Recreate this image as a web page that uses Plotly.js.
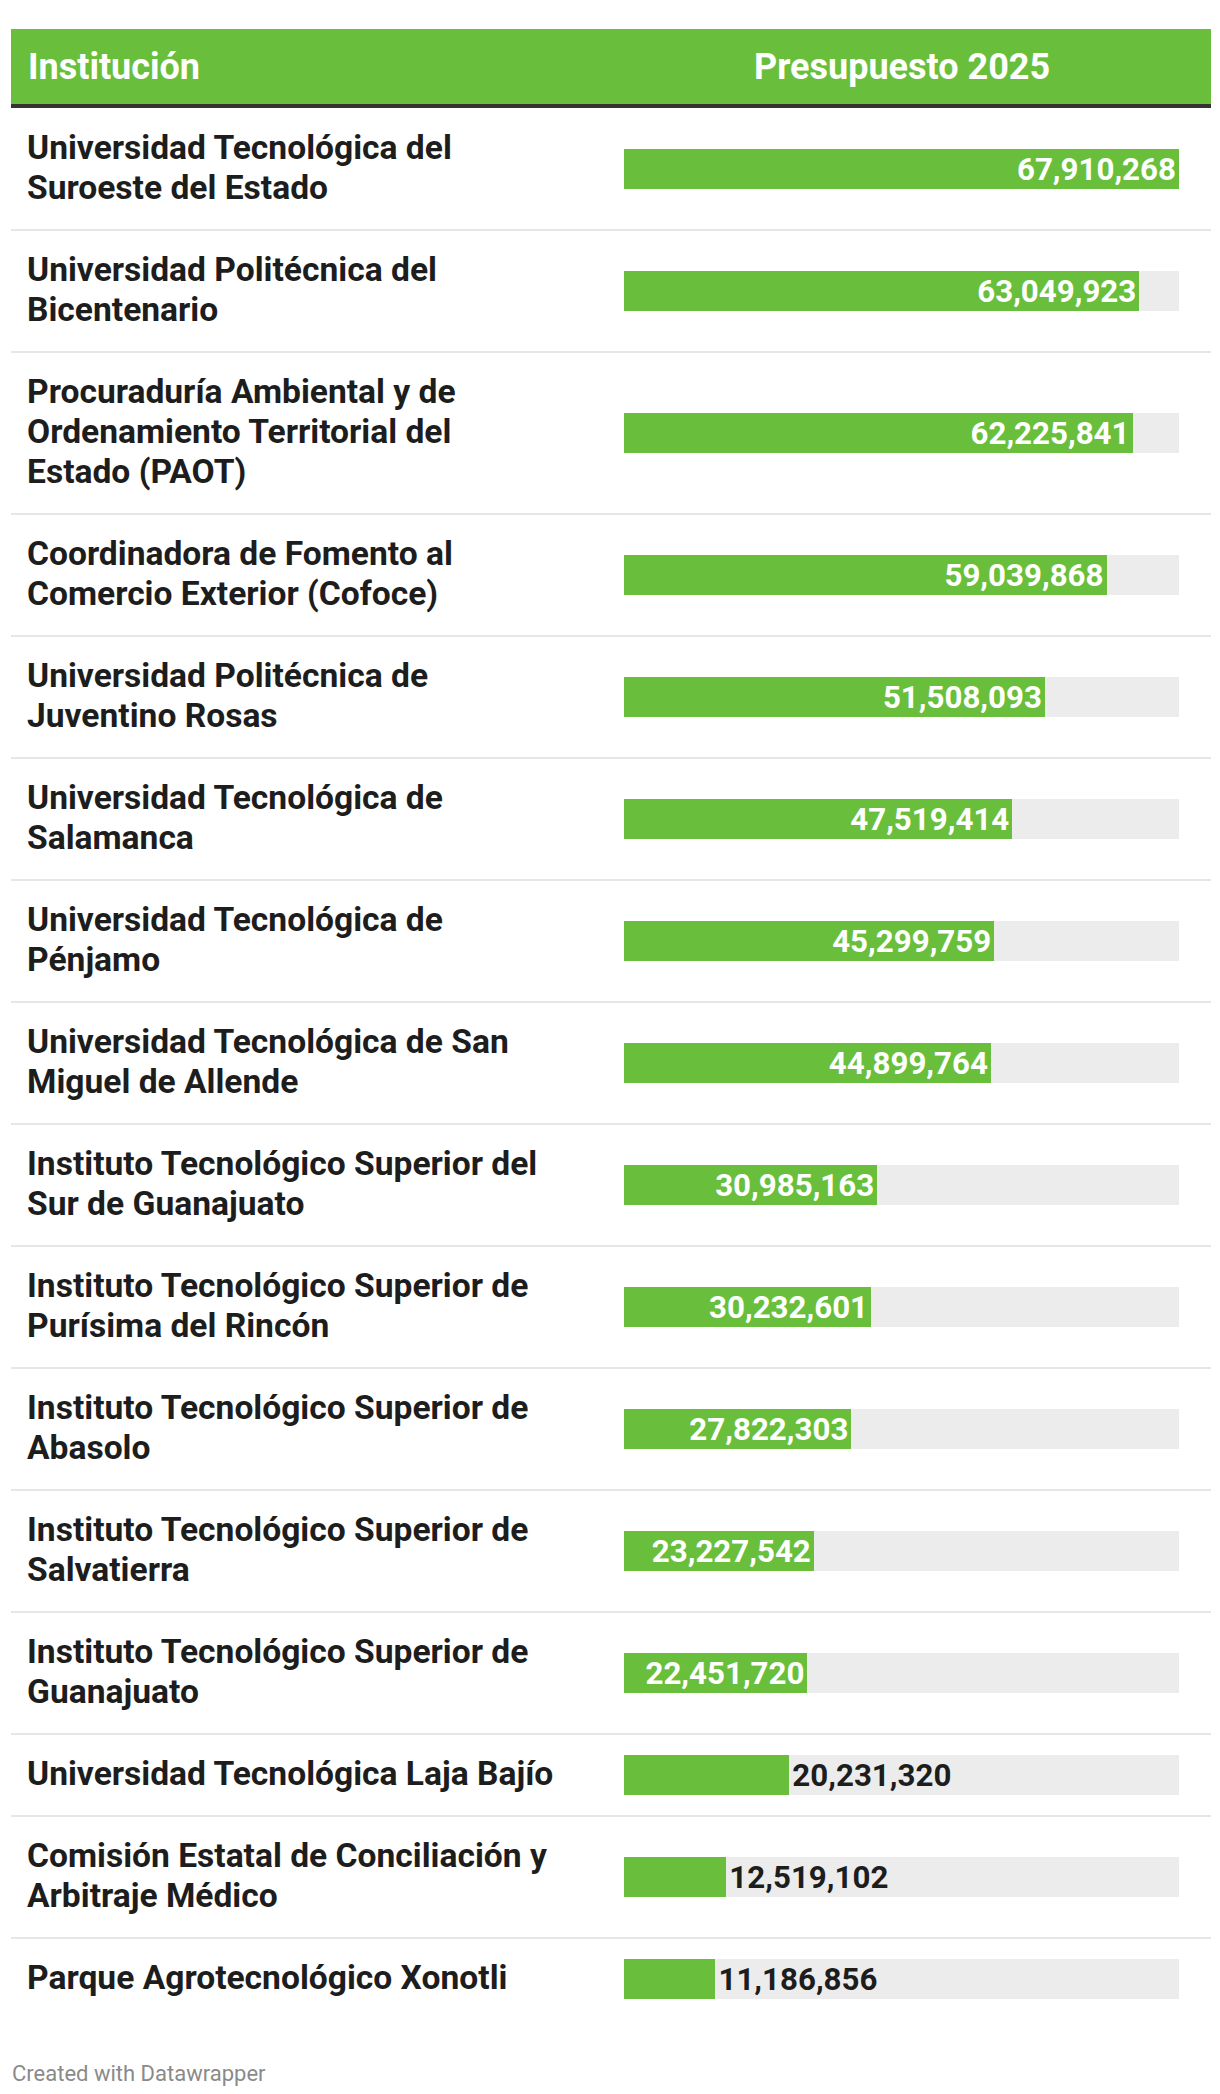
<!DOCTYPE html>
<html>
<head>
<meta charset="utf-8">
<script src="https://cdn.plot.ly/plotly-3.0.1.min.js"></script>
<style>
  html, body { margin: 0; padding: 0; background: #ffffff; }
  #chart { width: 1220px; height: 2094px; }
</style>
</head>
<body>
<div id="chart"></div>
<script>
// ---- Data ----
const institutions = [
  "Universidad Tecnológica del\nSuroeste del Estado",
  "Universidad Politécnica del\nBicentenario",
  "Procuraduría Ambiental y de\nOrdenamiento Territorial del\nEstado (PAOT)",
  "Coordinadora de Fomento al\nComercio Exterior (Cofoce)",
  "Universidad Politécnica de\nJuventino Rosas",
  "Universidad Tecnológica de\nSalamanca",
  "Universidad Tecnológica de\nPénjamo",
  "Universidad Tecnológica de San\nMiguel de Allende",
  "Instituto Tecnológico Superior del\nSur de Guanajuato",
  "Instituto Tecnológico Superior de\nPurísima del Rincón",
  "Instituto Tecnológico Superior de\nAbasolo",
  "Instituto Tecnológico Superior de\nSalvatierra",
  "Instituto Tecnológico Superior de\nGuanajuato",
  "Universidad Tecnológica Laja Bajío",
  "Comisión Estatal de Conciliación y\nArbitraje Médico",
  "Parque Agrotecnológico Xonotli"
];
const budget2025 = [
  67910268, 63049923, 62225841, 59039868, 51508093, 47519414, 45299759, 44899764,
  30985163, 30232601, 27822303, 23227542, 22451720, 20231320, 12519102, 11186856
];
const headerLabels = ["Institución", "Presupuesto 2025"];
const footerText = "Created with Datawrapper";

// ---- Layout constants ----
const W = 1220, H = 2094;
const GREEN = "#69bf3b", TRACK = "#ececec", DARK = "#1d1d1d";
const FONT = "Roboto, 'Open Sans', sans-serif";
const LABEL_FS = 33.6, VALUE_FS = 31.3, HEAD_FS = 36, FOOT_FS = 22;
const tableLeft = 11, tableRight = 1211;
const barLeft = 624, barRight = 1179;
const headerTop = 29, headerBottom = 104, ruleBottom = 108;
const lineH = 40, rowPad = 42, barH = 40, labelShift = -2;

const maxVal = Math.max(...budget2025);

// row geometry derived from label line counts
const rowCenters = [], rowBounds = [];
let cursor = ruleBottom;
institutions.forEach(name => {
  const lines = name.split("\n").length;
  const h = lines * lineH + rowPad;
  rowCenters.push(cursor + h / 2);
  cursor += h;
  rowBounds.push(cursor);
});

const fmt = v => v.toLocaleString("en-US");
const valueText = budget2025.map(fmt);
const barPx = budget2025.map(v => v / maxVal * (barRight - barLeft));
const textPos = valueText.map((t, i) => (barPx[i] > t.length * 0.53 * VALUE_FS + 10 ? "inside" : "outside"));

const px = x => x / W;

const traces = [
  {
    type: "bar", orientation: "h",
    x: budget2025.map(() => maxVal), y: rowCenters, width: barH,
    marker: { color: TRACK, line: { width: 0 } },
    hoverinfo: "skip", showlegend: false
  },
  {
    type: "bar", orientation: "h",
    x: budget2025, y: rowCenters, width: barH,
    marker: { color: GREEN, line: { width: 0 } },
    text: valueText, textposition: textPos, insidetextanchor: "end",
    constraintext: "none", cliponaxis: false,
    textfont: { family: FONT, size: VALUE_FS, weight: 700 },
    insidetextfont: { family: FONT, size: VALUE_FS, weight: 700, color: "#ffffff" },
    outsidetextfont: { family: FONT, size: VALUE_FS, weight: 700, color: DARK },
    hoverinfo: "skip", showlegend: false
  }
];

const shapes = [
  { type: "rect", xref: "paper", yref: "y", x0: px(tableLeft), x1: px(tableRight),
    y0: headerTop, y1: headerBottom, fillcolor: GREEN, line: { width: 0 }, layer: "below" },
  { type: "rect", xref: "paper", yref: "y", x0: px(tableLeft), x1: px(tableRight),
    y0: headerBottom, y1: ruleBottom, fillcolor: "#333333", line: { width: 0 }, layer: "below" }
];
rowBounds.slice(0, -1).forEach(b => {
  shapes.push({ type: "line", xref: "paper", yref: "y", x0: px(tableLeft), x1: px(tableRight),
    y0: b, y1: b, line: { color: "#e6e6e6", width: 2 }, layer: "below" });
});

const annotations = [
  { xref: "paper", yref: "y", x: px(26), y: (headerTop + headerBottom) / 2,
    xanchor: "left", yanchor: "middle", showarrow: false, text: headerLabels[0],
    font: { family: FONT, size: HEAD_FS, color: "#ffffff", weight: 700 } },
  { xref: "paper", yref: "y", x: px((barLeft + barRight) / 2), y: (headerTop + headerBottom) / 2,
    xanchor: "center", yanchor: "middle", showarrow: false, text: headerLabels[1],
    font: { family: FONT, size: HEAD_FS, color: "#ffffff", weight: 700 } },
  { xref: "paper", yref: "y", x: px(10), y: 2073,
    xanchor: "left", yanchor: "middle", showarrow: false, text: footerText,
    font: { family: FONT, size: FOOT_FS, color: "#8a8a8a" } }
];
institutions.forEach((name, i) => {
  const lines = name.split("\n");
  lines.forEach((ln, k) => {
    annotations.push({
      xref: "paper", yref: "y", x: px(25),
      y: rowCenters[i] + labelShift + (k - (lines.length - 1) / 2) * lineH,
      xanchor: "left", yanchor: "middle", align: "left", showarrow: false,
      text: ln,
      font: { family: FONT, size: LABEL_FS, color: DARK, weight: 700 }
    });
  });
});

const layout = {
  width: W, height: H,
  margin: { l: 0, r: 0, t: 0, b: 0, pad: 0 },
  paper_bgcolor: "#ffffff", plot_bgcolor: "rgba(0,0,0,0)",
  barmode: "overlay", bargap: 0,
  xaxis: { domain: [px(barLeft), px(barRight)], range: [0, maxVal], visible: false, fixedrange: true },
  yaxis: { range: [H, 0], visible: false, fixedrange: true },
  shapes: shapes, annotations: annotations,
  showlegend: false, hovermode: false
};

Plotly.newPlot("chart", traces, layout, { displayModeBar: false, staticPlot: true });
</script>
</body>
</html>
